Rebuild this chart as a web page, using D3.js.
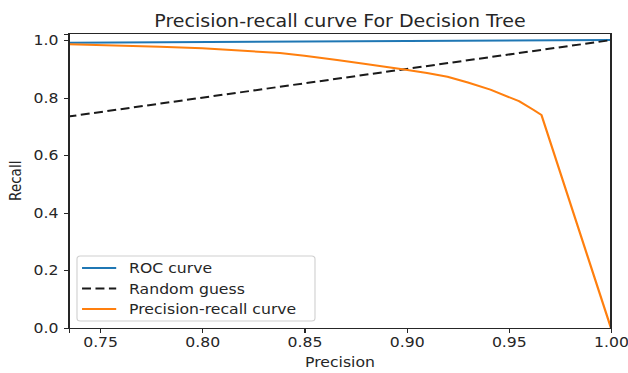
<!DOCTYPE html>
<html lang="en">
<head>
<meta charset="utf-8" />
<script src="https://d3js.org/d3.v7.min.js"></script>
<style>
    body { margin: 0; background: #fff; }
    svg text { font-family: "DejaVu Sans", sans-serif; fill: #262626; }
    .axis path, .axis line { stroke: #262626; shape-rendering: crispEdges; }
</style>
</head>
<body>
<script>
// data
var precision = [0.7348, 0.7793, 0.800, 0.838, 0.850, 0.866, 0.880, 0.898, 0.910, 0.920, 0.930, 0.941, 0.955, 0.962, 0.966, 1.0];
var recall    = [0.986, 0.977, 0.972, 0.955, 0.946, 0.931, 0.917, 0.899, 0.886, 0.873, 0.853, 0.828, 0.788, 0.758, 0.740, 0.0];
var rocX = [0.7348, 1.0];
var rocY = [0.991, 1.0];
var guessX = [0, 1];
var guessY = [0, 1];
var xTicks = [0.75, 0.80, 0.85, 0.90, 0.95, 1.00];
var yTicks = [0.0, 0.2, 0.4, 0.6, 0.8, 1.0];

// the picture is a bit wider than tall, so draw in a narrower box and stretch it
var stretch = 1.12;
var W = 628 / stretch, H = 373;
var margin = { top: 33.5, right: W - 545.5, bottom: H - 328, left: 61.6 };
var wide = W - margin.left - margin.right;
var high = H - margin.top - margin.bottom;

var x = d3.scaleLinear().domain([0.7348, 1.0]).range([0, wide]);
var y = d3.scaleLinear().domain([0, 1.023]).range([high, 0]);

var svg = d3.select("body").append("svg")
    .attr("width", 628).attr("height", 373)
    .attr("viewBox", "0 0 " + W + " " + H)
    .attr("preserveAspectRatio", "none");

svg.append("defs").append("clipPath").attr("id", "clip")
    .append("rect").attr("width", wide).attr("height", high);

var main = svg.append("g")
    .attr("transform", "translate(" + margin.left + "," + margin.top + ")");

var plot = main.append("g").attr("clip-path", "url(#clip)");

var line = d3.line().x(function (d) { return x(d[0]); }).y(function (d) { return y(d[1]); });

plot.append("path").datum(d3.zip(rocX, rocY))
    .attr("d", line).attr("fill", "none").attr("stroke", "#1f77b4").attr("stroke-width", 2);
plot.append("path").datum(d3.zip(guessX, guessY))
    .attr("d", line).attr("fill", "none").attr("stroke", "#1a1a1a").attr("stroke-width", 2)
    .attr("stroke-dasharray", "8,4");
plot.append("path").datum(d3.zip(precision, recall))
    .attr("d", line).attr("fill", "none").attr("stroke", "#ff7f0e").attr("stroke-width", 2)
    .attr("stroke-linejoin", "round");

// axes
main.append("g").attr("class", "axis")
    .attr("transform", "translate(0," + high + ")")
    .call(d3.axisBottom(x).tickValues(xTicks).tickFormat(d3.format(".2f")).tickSizeOuter(0).tickSize(4.5).tickPadding(5))
    .selectAll("text").attr("font-size", 14).attr("fill", "#262626").attr("font-family", "DejaVu Sans");
main.append("g").attr("class", "axis")
    .call(d3.axisLeft(y).tickValues(yTicks).tickFormat(d3.format(".1f")).tickSizeOuter(0).tickSize(4.5).tickPadding(5))
    .selectAll("text").attr("font-size", 14).attr("fill", "#262626").attr("font-family", "DejaVu Sans");

// frame
main.append("rect").attr("width", wide).attr("height", high)
    .attr("fill", "none").attr("stroke", "#262626").attr("stroke-width", 1)
    .attr("shape-rendering", "crispEdges");

// title and labels
svg.append("text").attr("x", margin.left + wide / 2).attr("y", 27)
    .attr("text-anchor", "middle").attr("font-size", 17)
    .text("Precision-recall curve For Decision Tree");
svg.append("text").attr("x", margin.left + wide / 2).attr("y", 367)
    .attr("text-anchor", "middle").attr("font-size", 14)
    .text("Precision");
svg.append("text")
    .attr("transform", "translate(" + 18.5 + "," + (margin.top + high / 2) + ")rotate(-90)")
    .attr("text-anchor", "middle").attr("font-size", 13.5)
    .text("Recall");

// legend
var legend = [
    { name: "ROC curve", color: "#1f77b4", dash: null },
    { name: "Random guess", color: "#1a1a1a", dash: "8,4" },
    { name: "Precision-recall curve", color: "#ff7f0e", dash: null }
];
var lg = svg.append("g").attr("transform", "translate(68.75,256)");
lg.append("rect").attr("width", 212.5).attr("height", 65).attr("rx", 3)
    .attr("fill", "#fff").attr("fill-opacity", 0.8)
    .attr("stroke", "#d0d0d0").attr("stroke-width", 1);
var row = lg.selectAll(".row").data(legend).enter().append("g")
    .attr("transform", function (d, i) { return "translate(0," + (12 + i * 20.5) + ")"; });
row.append("line").attr("x1", 4.5).attr("x2", 35).attr("y1", 0).attr("y2", 0)
    .attr("stroke", function (d) { return d.color; }).attr("stroke-width", 2)
    .attr("stroke-dasharray", function (d) { return d.dash; });
row.append("text").attr("x", 46.5).attr("y", 5).attr("font-size", 14)
    .text(function (d) { return d.name; });
</script>
</body>
</html>
